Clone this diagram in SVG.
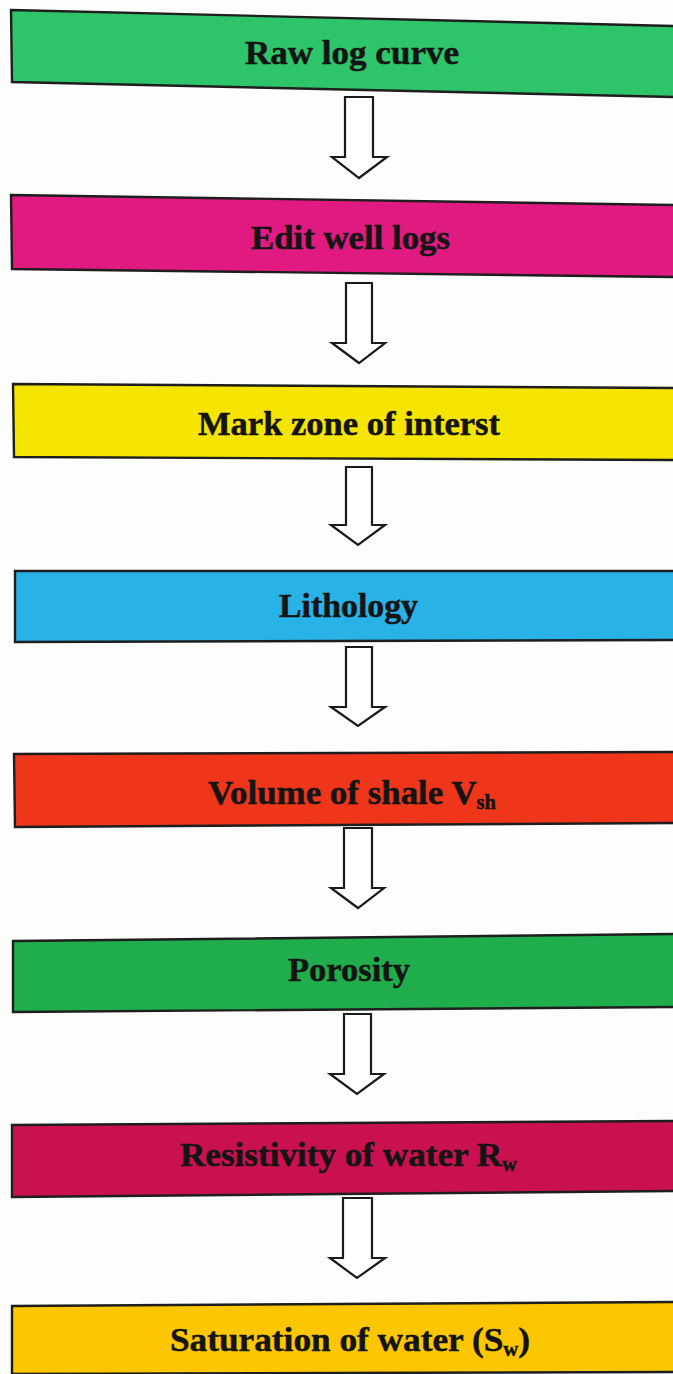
<svg xmlns="http://www.w3.org/2000/svg" width="673" height="1374" viewBox="0 0 673 1374">
<style>
.box{stroke:#1e1e1e;stroke-width:2.4;stroke-linejoin:miter}
.lbl{font-family:"Liberation Serif","Times New Roman",serif;font-weight:bold;font-size:34px;fill:#141414;stroke:#141414;stroke-width:0.5}
.sub{font-size:20px}
.arr{fill:#ffffff;stroke:#1a1a1a;stroke-width:2.2;stroke-linejoin:miter}
</style>
<rect x="0" y="0" width="673" height="1374" fill="#fdfdfc"/>
<g id="node-raw-log-curve">
<polygon class="box" fill="#2ec46a" points="11,10 676,26 676,97 12,82"/>
<text class="lbl" x="245" y="64" textLength="214" lengthAdjust="spacingAndGlyphs">Raw log curve</text>
</g>
<g id="node-edit-well-logs">
<polygon class="box" fill="#e01a80" points="11,195 676,205 676,277 12,269"/>
<text class="lbl" x="251" y="249" textLength="199" lengthAdjust="spacingAndGlyphs">Edit well logs</text>
</g>
<g id="node-mark-zone">
<polygon class="box" fill="#f6e500" points="13,384 676,388 676,460 14,457"/>
<text class="lbl" x="198" y="435" textLength="302" lengthAdjust="spacingAndGlyphs">Mark zone of interst</text>
</g>
<g id="node-lithology">
<polygon class="box" fill="#28b2e6" points="15,571 676,571 676,640 15,642"/>
<text class="lbl" x="279" y="617" textLength="139" lengthAdjust="spacingAndGlyphs">Lithology</text>
</g>
<g id="node-volume-of-shale">
<polygon class="box" fill="#f0361a" points="14,754 676,752 676,823 15,827"/>
<text class="lbl" x="208" y="804" textLength="288" lengthAdjust="spacingAndGlyphs">Volume of shale V<tspan class="sub" dy="5">sh</tspan></text>
</g>
<g id="node-porosity">
<polygon class="box" fill="#20ae4c" points="13,941 676,934 676,1007 13,1012"/>
<text class="lbl" x="288" y="981" textLength="122" lengthAdjust="spacingAndGlyphs">Porosity</text>
</g>
<g id="node-resistivity">
<polygon class="box" fill="#c8114e" points="12,1125 676,1121 676,1191 12,1197"/>
<text class="lbl" x="180" y="1166" textLength="337" lengthAdjust="spacingAndGlyphs">Resistivity of water R<tspan class="sub" dy="5">w</tspan></text>
</g>
<g id="node-saturation">
<polygon class="box" fill="#fcc700" points="12,1306 676,1302 676,1372 12,1374"/>
<text class="lbl" x="170" y="1351" textLength="360" lengthAdjust="spacingAndGlyphs">Saturation of water (S<tspan class="sub" dy="5">w</tspan><tspan dy="-5">)</tspan></text>
</g>
<g id="connectors">
<polygon class="arr" points="345,97 373,97 373,157 387,157 359,178 332,157 345,157"/>
<polygon class="arr" points="346,283 372,283 372,343 385,343 359,363 332,343 346,343"/>
<polygon class="arr" points="346,467 372,467 372,525 385,525 358,545 331,525 346,525"/>
<polygon class="arr" points="346,647 372,647 372,707 385,707 358,726 331,707 346,707"/>
<polygon class="arr" points="344,828 372,828 372,888 384,888 358,908 331,888 344,888"/>
<polygon class="arr" points="344,1014 371,1014 371,1074 384,1074 357,1094 330,1074 344,1074"/>
<polygon class="arr" points="343,1198 372,1198 372,1258 385,1258 357,1278 330,1258 343,1258"/>
</g>
</svg>
